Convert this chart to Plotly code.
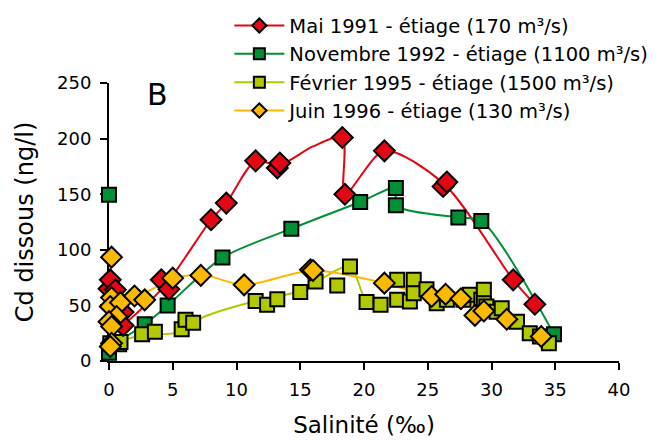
import plotly.graph_objects as go

# ----------------------------------------------------------
# Data: salinity (‰) vs dissolved Cd (ng/l)
# ----------------------------------------------------------

# Mai 1991 - measured points
mai91_sal = [0.0, 0.1, 0.5, 1.1, 1.1, 4.1, 4.7, 8.0, 9.2, 11.5, 13.2, 13.4,
             18.3, 18.5, 21.6, 26.2, 26.5, 31.7, 33.4]
mai91_cd = [65, 73, 64, 44, 32, 73, 64.6, 127, 142, 180, 173.6, 178,
            201, 150, 189, 157, 161, 73, 51]
# Mai 1991 - fitted curve
mai91_fit_sal = [1.1, 4.4, 8.0, 9.2, 11.5, 13.3, 16.0, 18.3, 18.5, 21.6, 26.3, 31.7, 33.4]
mai91_fit_cd = [32, 68, 127, 142, 180, 176, 193, 201, 150, 189, 159, 73, 51]

# Novembre 1992 - measured points
nov92_sal = [0.0, 0.0, 2.8, 4.6, 8.9, 14.3, 19.7, 22.5, 22.5, 27.4, 29.2, 34.9]
nov92_cd = [149.5, 7.5, 33, 50, 93, 119, 143, 155.6, 140, 129, 126, 24]
# Novembre 1992 - fitted curve
nov92_fit_sal = [0.1, 2.8, 4.6, 8.9, 14.3, 19.7, 22.5, 22.5, 27.4, 29.2, 34.9]
nov92_fit_cd = [13, 33, 50, 93, 119, 143, 155.6, 140, 129, 126, 24]

# Fevrier 1995 - measured points
fev95_sal = [0.1, 0.8, 0.9, 2.6, 3.6, 5.7, 6.0, 6.6, 11.5, 12.4, 13.2, 15.0,
             16.2, 17.9, 18.9, 20.2, 21.3, 22.6, 22.6, 23.6, 23.9, 23.9, 24.9,
             25.7, 26.5, 27.8, 28.3, 29.2, 29.4, 29.4, 29.6, 30.4, 30.8, 32.0,
             33.0, 33.8, 34.5]
fev95_cd = [16, 15, 17, 24, 26.4, 28.5, 37, 34.5, 54, 50.5, 55.6, 62,
            71.4, 68, 85, 53, 50.5, 73, 55, 53.4, 73, 61, 64.6,
            52, 55, 55, 59.5, 55, 64, 52, 49, 44.4, 47.5, 35.4,
            25, 22, 16]
# Fevrier 1995 - fitted curve
fev95_fit_sal = [0.1, 2.6, 5.5, 7.5, 11.5, 15.0, 18.9, 20.2, 22.6, 25.0, 28.0, 30.4, 33.0, 34.5]
fev95_fit_cd = [16, 23, 26, 40, 54, 63, 85, 55, 58, 58, 53, 44, 25, 16]

# Juin 1996 - measured points
juin96_sal = [0.2, 0.2, 0.1, 0.9, 0.6, 0.0, 0.2, 0.2, 0.1, 2.0, 2.8, 5.0,
              7.2, 10.6, 15.8, 16.0, 21.6, 25.3, 26.4, 27.6, 28.7, 29.4,
              31.2, 33.9]
juin96_cd = [93.4, 57, 49, 52.5, 40, 35.4, 31, 16, 13, 58.5, 55, 74.5,
             77, 68.5, 82, 81.4, 70, 58, 60, 56, 41, 45,
             37.5, 22]
# Juin 1996 - fitted curve
juin96_fit_sal = [0.2, 0.3, 2.5, 5.0, 7.3, 10.6, 16.0, 21.6, 25.3, 27.6, 29.4, 31.2, 33.9]
juin96_fit_cd = [93.4, 58, 60, 74, 77.5, 68.5, 81.4, 70, 58, 56, 45, 37.5, 22]

series = [
    ("Mai 1991 - étiage (170 m³/s)", "#e30613", "diamond",
     mai91_sal, mai91_cd, mai91_fit_sal, mai91_fit_cd),
    ("Novembre 1992 - étiage (1100 m³/s)", "#009036", "square",
     nov92_sal, nov92_cd, nov92_fit_sal, nov92_fit_cd),
    ("Février 1995 - étiage (1500 m³/s)", "#b2c800", "square",
     fev95_sal, fev95_cd, fev95_fit_sal, fev95_fit_cd),
    ("Juin 1996 - étiage (130 m³/s)", "#fbb900", "diamond",
     juin96_sal, juin96_cd, juin96_fit_sal, juin96_fit_cd),
]

FONT = "DejaVu Sans"

fig = go.Figure()

# fitted curves first (behind markers)
for name, color, symbol, sx, cy, fx, fy in series:
    fig.add_trace(go.Scatter(
        x=fx, y=fy, mode="lines",
        line=dict(color=color, width=2, shape="spline", smoothing=0.8),
        showlegend=False, hoverinfo="skip", cliponaxis=False
    ))

# markers, drawn in the order that matches the overlap of the original
for idx in [1, 2, 0, 3]:
    name, color, symbol, sx, cy, fx, fy = series[idx]
    fig.add_trace(go.Scatter(
        x=sx, y=cy, mode="markers",
        marker=dict(symbol=symbol, size=14 if symbol == "square" else 16,
                    color=color, line=dict(color="black", width=2)),
        showlegend=False, cliponaxis=False, name=name
    ))

# legend entries (line + marker)
for name, color, symbol, sx, cy, fx, fy in series:
    fig.add_trace(go.Scatter(
        x=[None], y=[None], mode="lines+markers", name=name,
        line=dict(color=color, width=2),
        marker=dict(symbol=symbol, size=11, color=color,
                    line=dict(color="black", width=2))
    ))

fig.add_annotation(
    x=0.096, y=0.96, xref="paper", yref="paper",
    text="B", showarrow=False, xanchor="center", yanchor="middle",
    font=dict(family=FONT, size=30, color="black")
)

# the page body has an 8px margin, so the plot box is offset by 8px here
fig.update_layout(
    width=659, height=440,
    margin=dict(l=101, r=48, t=75, b=87, autoexpand=False),
    paper_bgcolor="white", plot_bgcolor="white",
    font=dict(family=FONT, size=17, color="black"),
    legend=dict(
        x=0.236, y=1.276, xanchor="left", yanchor="top",
        font=dict(family=FONT, size=19.5, color="black"),
        bgcolor="rgba(0,0,0,0)", itemwidth=50, tracegroupgap=0
    ),
    xaxis=dict(
        range=[0, 40], tickvals=[0, 5, 10, 15, 20, 25, 30, 35, 40],
        showline=True, linecolor="black", linewidth=2,
        ticks="outside", ticklen=7, tickwidth=2, tickcolor="black",
        ticklabelstandoff=4, tickfont=dict(size=18),
        showgrid=False, zeroline=False, layer="below traces", automargin=False,
        title=dict(text="Salinité (‰)", font=dict(size=23), standoff=18)
    ),
    yaxis=dict(
        range=[0, 250], tickvals=[0, 50, 100, 150, 200, 250],
        showline=True, linecolor="black", linewidth=2,
        ticks="outside", ticklen=7, tickwidth=2, tickcolor="black",
        ticklabelstandoff=5, tickfont=dict(size=18),
        showgrid=False, zeroline=False, layer="below traces", automargin=False,
        title=dict(text="Cd dissous (ng/l)", font=dict(size=24), standoff=17)
    ),
)

fig.write_html("out.html")
